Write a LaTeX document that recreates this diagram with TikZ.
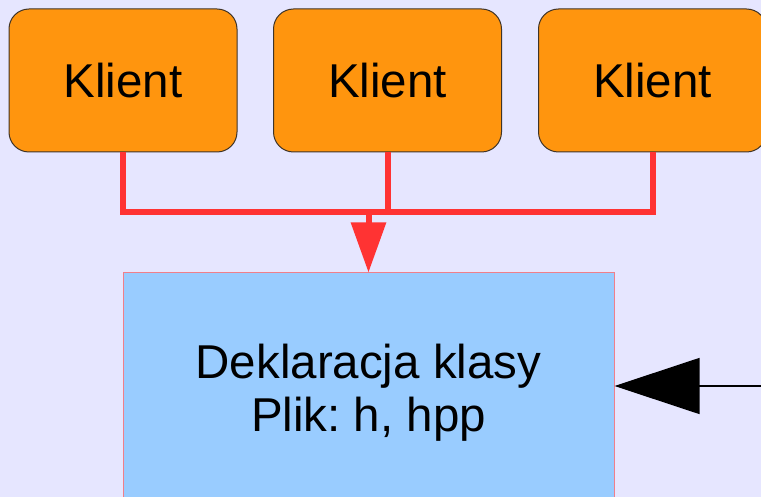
\documentclass[tikz,border=0pt]{standalone}
\usepackage{fontspec}
\setmainfont{Liberation Sans}
\usetikzlibrary{arrows.meta}
\frenchspacing
\definecolor{bgc}{HTML}{E6E6FF}
\definecolor{orangefill}{HTML}{FF950E}
\definecolor{orangeborder}{HTML}{3F3428}
\definecolor{redline}{HTML}{FF3333}
\definecolor{bluefill}{HTML}{99CCFF}
\definecolor{blueborder}{HTML}{F07F8A}
\tikzset{
  klientbox/.style={draw=orangeborder, line width=1pt, fill=orangefill, rounded corners=20pt,
    minimum width=228pt, minimum height=143pt, inner sep=0pt,
    font=\fontsize{47.5}{53}\selectfont},
  declbox/.style={draw=blueborder, line width=1pt, fill=bluefill,
    minimum width=491pt, minimum height=226pt, inner sep=0pt},
  decltext/.style={inner sep=0pt, align=center, font=\fontsize{47.5}{53}\selectfont\frenchspacing},
  redconn/.style={draw=redline, line width=6pt},
  blackconn/.style={draw=black, line width=1.2pt}
}
\begin{document}
\begin{tikzpicture}[x=1pt,y=-1pt]
\path[use as bounding box] (0,0) rectangle (761,497);
\clip (0,0) rectangle (761,497);
\fill[bgc] (0,0) rectangle (761,497);
\node[klientbox] (k1) at (123,80.5) {Klient};
\node[klientbox] (k2) at (387.5,80.5) {Klient};
\node[klientbox] (k3) at (652.5,80.5) {Klient};
\node[declbox] (dek) at (368.5,386) {};
\node[decltext, yshift=-7pt] (dektext) at (dek.center) {Deklaracja klasy\\Plik: h, hpp};
\coordinate (j1) at (123,212);
\coordinate (j2) at (387.5,212);
\coordinate (j3) at (652.5,212);
\coordinate (jm) at (368.5,212);
\coordinate (src) at (765,386);
\path[redconn] (k1.south) -- (j1) -- (j3) -- (k3.south);
\path[redconn] (k2.south) -- (j2);
\path[redconn, -{Triangle[length=50pt,width=34pt]}] (jm) -- (dek.north);
\path[blackconn, -{Triangle[length=85pt,width=56pt]}] (src) -- (dek.east);
\end{tikzpicture}
\end{document}
